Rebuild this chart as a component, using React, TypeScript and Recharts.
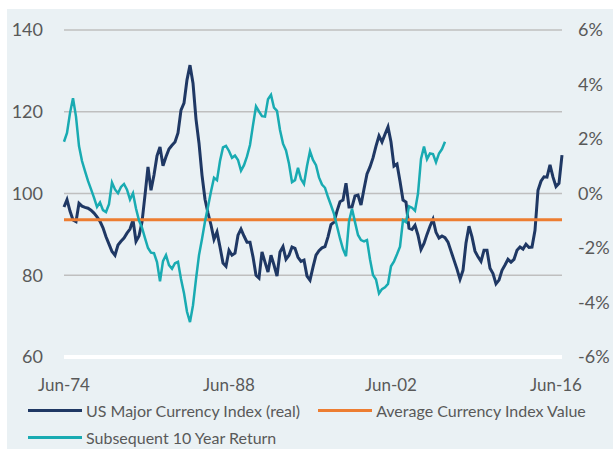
import { LineChart, Line, XAxis, YAxis, CartesianGrid, Legend } from "recharts"

// US major currency index (real), sampled along the full period
const currencyIndex = [
  96.7, 98.5, 95.7, 93.5, 93.1, 97.6, 96.9, 96.6, 96.4, 95.9,
  95.2, 94.3, 93.2, 91.6, 89.4, 87.6, 85.8, 84.9, 87.4, 88.3,
  89.1, 90.3, 91.3, 93.5, 88.3, 89.6, 93.0, 99.6, 106.5, 100.8,
  104.5, 109.2, 111.4, 106.8, 109.0, 110.9, 111.8, 112.6, 114.8, 120.4,
  122.1, 127.8, 131.4, 127.0, 118.2, 112.3, 104.5, 98.6, 95.2, 92.3,
  88.8, 90.6, 86.9, 83.0, 82.2, 86.1, 84.9, 85.4, 89.8, 91.3,
  89.6, 88.1, 88.1, 84.5, 80.0, 79.3, 85.7, 83.2, 80.8, 84.9,
  82.5, 79.8, 85.7, 87.0, 83.9, 84.9, 86.9, 86.6, 84.4, 83.4,
  83.7, 79.8, 78.8, 82.0, 84.9, 86.0, 86.7, 87.0, 89.4, 92.4,
  93.0, 95.7, 98.0, 98.4, 102.5, 96.7, 96.7, 99.4, 99.6, 97.2,
  101.1, 104.8, 106.5, 108.7, 111.6, 114.1, 112.6, 114.5, 116.3, 112.6,
  106.7, 107.2, 103.0, 98.4, 97.9, 91.5, 91.2, 92.2, 89.8, 86.3,
  87.8, 90.0, 92.0, 93.7, 90.5, 89.1, 89.6, 89.2, 88.1, 85.9,
  83.7, 81.5, 79.0, 81.2, 87.9, 92.0, 89.4, 85.9, 84.5, 83.4,
  86.1, 86.1, 81.7, 80.4, 77.9, 78.8, 81.2, 82.5, 83.9, 83.2,
  83.9, 86.1, 86.9, 86.4, 87.6, 86.8, 86.9, 91.0, 100.8, 103.0,
  104.1, 104.0, 107.0, 104.0, 101.7, 102.5, 109.4,
]

// subsequent 10 year return, % (stops ten years before the end)
const tenYearReturn = [
  1.9, 2.22, 2.95, 3.5, 2.82, 1.74, 1.19, 0.82, 0.46, 0.16,
  -0.15, -0.49, -0.33, -0.61, -0.68, -0.39, 0.4, 0.15, 0.01, 0.24,
  0.35, 0.14, -0.22, 0.01, -0.55, -0.99, -1.25, -1.64, -2.0, -2.17,
  -2.19, -2.52, -3.22, -2.48, -2.26, -2.63, -2.76, -2.56, -2.51, -3.14,
  -3.66, -4.34, -4.72, -4.1, -3.14, -2.26, -1.67, -1.03, -0.49, 0.07,
  0.58, 0.49, 1.19, 1.69, 1.75, 1.56, 1.31, 1.39, 1.23, 0.84,
  1.04, 1.36, 1.78, 2.51, 3.2, 3.01, 2.84, 2.82, 3.46, 3.62,
  3.15, 3.03, 2.33, 1.83, 1.58, 1.09, 0.42, 0.49, 0.94, 0.53,
  0.35, 1.01, 1.55, 1.23, 1.04, 0.59, 0.33, 0.21, -0.13, -0.43,
  -0.75, -1.2, -1.65, -2.04, -2.3, -1.03, -0.56, -1.05, -1.52, -1.71,
  -1.76, -1.71, -2.41, -2.99, -3.16, -3.67, -3.51, -3.44, -3.32, -2.67,
  -2.49, -2.23, -1.95, -0.98, -1.05, -0.47, -0.52, -0.63, 0.0, 1.27,
  1.72, 1.26, 1.47, 1.45, 1.15, 1.47, 1.63, 1.9,
]

const averageIndex = 93.6

const xTickLabels = ["Jun-74", "Jun-88", "Jun-02", "Jun-16"]
const xTickIdx = [0, 55, 109, 164]
const leftTicks = [60, 80, 100, 120, 140]
const rightTicks = [-6, -4, -2, 0, 2, 4, 6]

const series = [
  { key: "index", name: "US Major Currency Index (real)", color: "#1f3864", axis: "left", width: 3 },
  { key: "avg", name: "Average Currency Index Value", color: "#ed7d31", axis: "left", width: 3 },
  { key: "ret", name: "Subsequent 10 Year Return", color: "#19abb2", axis: "right", width: 2.5 },
]

const data = currencyIndex.map((v, i) => ({
  i,
  index: v,
  avg: averageIndex,
  ret: i < tenYearReturn.length ? tenYearReturn[i] : null,
}))

const labelColor = "#595959"

function LegendRows() {
  return (
    <div style={{ display: "flex", flexWrap: "wrap", width: 585, paddingLeft: 28, paddingTop: 10, fontSize: 16, color: labelColor }}>
      {series.map((s) => (
        <div key={s.key} style={{ display: "flex", alignItems: "center", height: 27, marginRight: 18 }}>
          <span style={{ display: "inline-block", width: 54, height: 3, background: s.color, marginRight: 4 }} />
          <span>{s.name}</span>
        </div>
      ))}
    </div>
  )
}

export default function App() {
  return (
    <div style={{ position: "relative", width: 613, height: 449, background: "#fff", fontFamily: "Lato, sans-serif", overflow: "hidden" }}>
      <style>{"body{margin:0}"}</style>
      <div style={{ position: "absolute", left: 7, top: 9, right: 0, bottom: 0, background: "#eaf1f4" }} />
      <div style={{ position: "absolute", left: 0, top: 0 }}>
        <LineChart width={613} height={449} data={data} margin={{ top: 30, right: 6, left: 8, bottom: 0 }}>
          <CartesianGrid yAxisId="left" vertical={false} stroke="#bfbfbf" strokeWidth={1.5} />
          <XAxis
            dataKey="i"
            type="number"
            domain={[0, currencyIndex.length - 1]}
            ticks={xTickIdx}
            interval={0}
            tickFormatter={(v) => xTickLabels[xTickIdx.indexOf(v)]}
            tickLine={false}
            axisLine={{ stroke: "#ffffff", strokeWidth: 4 }}
            tick={{ fill: labelColor, fontSize: 17 }}
            tickMargin={16}
            height={30}
          />
          <YAxis
            yAxisId="left"
            domain={[60, 140]}
            ticks={leftTicks}
            width={56}
            tickLine={false}
            axisLine={false}
            tick={{ fill: labelColor, fontSize: 18 }}
            tickMargin={15}
          />
          <YAxis
            yAxisId="right"
            orientation="right"
            domain={[-6, 6]}
            ticks={rightTicks}
            width={45}
            tickLine={false}
            axisLine={false}
            tickFormatter={(v) => `${v}%`}
            tick={{ fill: labelColor, fontSize: 18 }}
            tickMargin={10}
          />
          <Legend verticalAlign="bottom" height={62} wrapperStyle={{ left: 0, width: 613 }} content={() => <LegendRows />} />
          {series.map((s) => (
            <Line
              key={s.key}
              yAxisId={s.axis}
              dataKey={s.key}
              name={s.name}
              stroke={s.color}
              strokeWidth={s.width}
              dot={false}
              activeDot={false}
              isAnimationActive={false}
            />
          ))}
        </LineChart>
      </div>
    </div>
  )
}
